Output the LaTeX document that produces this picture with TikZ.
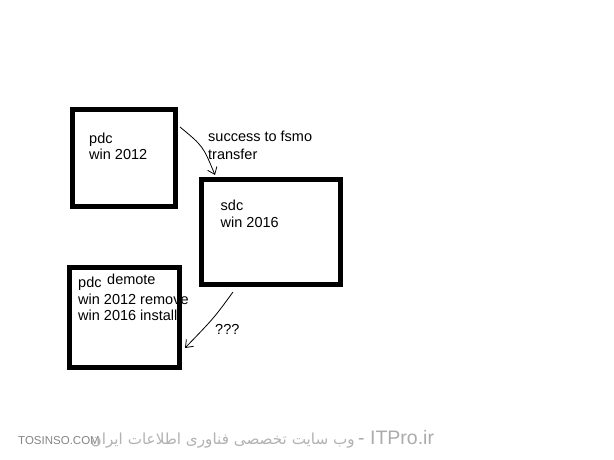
\documentclass[tikz,border=0pt]{standalone}
\usepackage{fontspec}
\setmainfont{Liberation Sans}
\newfontfamily\arabicfont[Script=Arabic]{DejaVu Sans}
\TeXXeTstate=1
\usetikzlibrary{arrows.meta}

\tikzset{
    paintbox/.style={draw, line width=5pt, inner sep=0pt},
    paintlabel/.style={anchor=base west, inner sep=0pt, font=\fontsize{14.5}{16}\selectfont},
    paintarrow/.style={line width=0.8pt, -{Straight Barb[length=6.5pt, width=10pt, line width=0.8pt]}},
}

\begin{document}
\begin{tikzpicture}[x=1pt, y=-1pt]
        \fill[white] (0,0) rectangle (614,460);
        \useasboundingbox (0,0) rectangle (614,460);

        % the three servers
        \node[paintbox, minimum width=103pt, minimum height=97pt] (oldpdc) at (124,158) {};
        \node[paintbox, minimum width=139pt, minimum height=105pt] (newsdc) at (271,232) {};
        \node[paintbox, minimum width=110pt, minimum height=100pt] (newpdc) at (124.5,317.5) {};

        \node[paintlabel] (oldpdcname) at (89,143) {pdc};
        \node[paintlabel] (oldpdcos) at (89,159) {win 2012};

        \node[paintlabel] (sdcname) at (220.5,210) {sdc};
        \node[paintlabel] (sdcos) at (220.5,227) {win 2016};

        \node[paintlabel] (newpdcname) at (78,287) {pdc};
        \node[paintlabel] (demote) at (107,284) {demote};
        \node[paintlabel] (remove) at (78,304) {win 2012 remove};
        \node[paintlabel] (install) at (78,320) {win 2016 install};

        % transfer and demote steps
        \node[paintlabel] (fsmo) at (208,142) {success to fsmo};
        \node[paintlabel] (transfer) at (208,159) {transfer};
        \coordinate (fsmostart) at (180,127);
        \coordinate (fsmoend) at (215,175);
        \draw[paintarrow] (fsmostart) .. controls (203,146) .. (fsmoend);

        \node[paintlabel] (unknown) at (215,334) {???};
        \coordinate (demotestart) at (233,292);
        \coordinate (demoteend) at (185,348);
        \draw[paintarrow] (demotestart) .. controls (214,318) .. (demoteend);

        % watermark
        \node[anchor=base west, inner sep=0pt, text=black!48, font=\fontsize{11.5}{12}\selectfont] (tosinso) at (18,444) {TOSINSO.COM};
        \node[anchor=base east, inner sep=0pt, text=black!30, font=\fontsize{15.2}{16}\selectfont] (sitename) at (355,444) {\arabicfont\beginR وب سایت تخصصی فناوری اطلاعات ایران\endR};
        \node[anchor=base west, inner sep=0pt, text=black!33, font=\fontsize{19.5}{20}\selectfont] (itpro) at (358,444) {- ITPro.ir};
\end{tikzpicture}
\end{document}
